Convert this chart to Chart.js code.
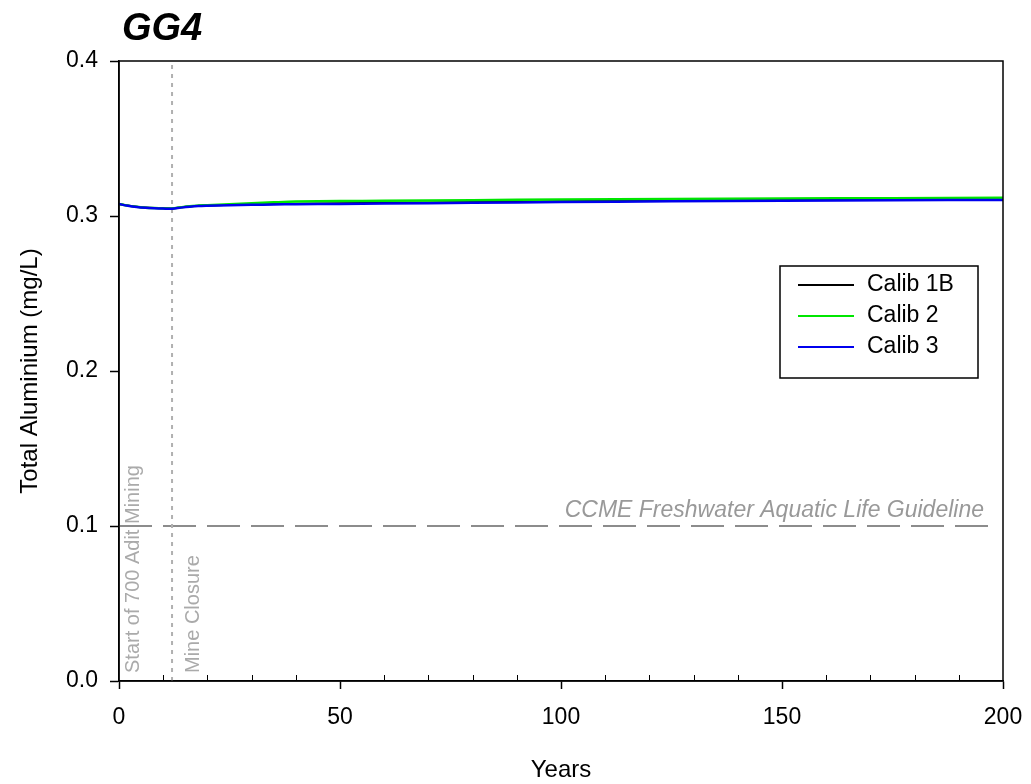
<!DOCTYPE html>
<html>
<head>
<meta charset="utf-8">
<script src="https://cdn.jsdelivr.net/npm/chart.js@4/dist/chart.umd.min.js"></script>
<style>
  html, body { margin: 0; padding: 0; background: #fff; }
  #wrap { width: 1031px; height: 784px; }
</style>
</head>
<body>
<div id="wrap"><canvas id="chart" width="1031" height="784"></canvas></div>
<script>
// years along the x axis
const years = [0, 2, 4, 6, 8, 10, 12, 14, 16, 18, 20, 25, 30, 35, 40, 50, 60, 80, 100, 125, 150, 175, 200];

// total aluminium (mg/L) per calibration
const calib1B = [0.3078, 0.3068, 0.3060, 0.3055, 0.3052, 0.3050, 0.3049, 0.3056, 0.3062, 0.3066, 0.3068, 0.3072, 0.3075, 0.3077, 0.3079, 0.3082, 0.3085, 0.3090, 0.3095, 0.3100, 0.3104, 0.3107, 0.3110];
const calib2  = [0.3078, 0.3067, 0.3059, 0.3054, 0.3051, 0.3049, 0.3048, 0.3056, 0.3063, 0.3067, 0.3070, 0.3076, 0.3082, 0.3088, 0.3093, 0.3096, 0.3098, 0.3102, 0.3106, 0.3110, 0.3113, 0.3115, 0.3117];
const calib3  = [0.3077, 0.3066, 0.3058, 0.3053, 0.3050, 0.3048, 0.3047, 0.3054, 0.3060, 0.3064, 0.3066, 0.3070, 0.3072, 0.3074, 0.3076, 0.3078, 0.3080, 0.3085, 0.3090, 0.3095, 0.3099, 0.3102, 0.3104];

const guidelineValue = 0.1;
const guidelineYears = [0, 197];
const mineStartYear = 0;
const mineClosureYear = 12;

const xTicks = [0, 50, 100, 150, 200];
const yTicks = [0.0, 0.1, 0.2, 0.3, 0.4];
const xMinorStep = 10;

const FONT = 'Arial, "Liberation Sans", sans-serif';

function pts(xs, ys) {
  return xs.map((x, i) => ({ x: x, y: ys[i] }));
}

const extras = {
  id: 'extras',
  afterDraw(chart) {
    const ctx = chart.ctx;
    const a = chart.chartArea;
    const xs = chart.scales.x;
    const ys = chart.scales.y;
    ctx.save();

    // box round the plot
    ctx.strokeStyle = '#000';
    ctx.lineWidth = 1.5;
    ctx.strokeRect(a.left, a.top, a.right - a.left, a.bottom - a.top);

    // minor ticks, inside
    ctx.lineWidth = 1;
    for (let v = xMinorStep; v < 200; v += xMinorStep) {
      if (v % 50 === 0) continue;
      const px = Math.round(xs.getPixelForValue(v)) + 0.5;
      ctx.beginPath();
      ctx.moveTo(px, a.bottom);
      ctx.lineTo(px, a.bottom - 6);
      ctx.stroke();
    }

    // title
    ctx.fillStyle = '#000';
    ctx.font = 'italic bold 38px ' + FONT;
    ctx.textAlign = 'left';
    ctx.textBaseline = 'alphabetic';
    ctx.fillText('GG4', 122, 40);

    // axis titles
    ctx.font = '24px ' + FONT;
    ctx.textAlign = 'center';
    ctx.textBaseline = 'middle';
    ctx.fillText('Years', (a.left + a.right) / 2, 770);
    ctx.save();
    ctx.translate(30, (a.top + a.bottom) / 2);
    ctx.rotate(-Math.PI / 2);
    ctx.fillText('Total Aluminium (mg/L)', 0, 0);
    ctx.restore();

    // guideline label
    ctx.fillStyle = '#999';
    ctx.font = 'italic 23px ' + FONT;
    ctx.textAlign = 'right';
    ctx.textBaseline = 'alphabetic';
    ctx.fillText('CCME Freshwater Aquatic Life Guideline', 984, ys.getPixelForValue(guidelineValue) - 9);

    // vertical labels
    ctx.fillStyle = '#aaa';
    ctx.font = '20px ' + FONT;
    ctx.textAlign = 'left';
    ctx.textBaseline = 'middle';
    [[mineStartYear, 'Start of 700 Adit Mining', 14], [mineClosureYear, 'Mine Closure', 21]].forEach(([yr, txt, off]) => {
      ctx.save();
      ctx.translate(xs.getPixelForValue(yr) + off, a.bottom - 8);
      ctx.rotate(-Math.PI / 2);
      ctx.fillText(txt, 0, 0);
      ctx.restore();
    });

    // legend
    const lx = 780, ly = 266, lw = 198, lh = 112;
    ctx.fillStyle = '#fff';
    ctx.fillRect(lx, ly, lw, lh);
    ctx.strokeStyle = '#000';
    ctx.lineWidth = 1.5;
    ctx.strokeRect(lx, ly, lw, lh);
    ctx.font = '23px ' + FONT;
    ctx.textAlign = 'left';
    ctx.textBaseline = 'middle';
    chart.data.datasets.filter(d => d.inLegend)
      .sort((p, q) => q.order - p.order)
      .forEach((d, i) => {
        const y = ly + 19 + i * 31;
        ctx.strokeStyle = d.borderColor;
        ctx.lineWidth = 2;
        ctx.beginPath();
        ctx.moveTo(lx + 18, y);
        ctx.lineTo(lx + 74, y);
        ctx.stroke();
        ctx.fillStyle = '#000';
        ctx.fillText(d.label, lx + 87, y);
      });

    ctx.restore();
  }
};

new Chart(document.getElementById('chart'), {
  type: 'line',
  data: {
    datasets: [
      {
        label: 'Guideline',
        order: 4,
        data: pts(guidelineYears, [guidelineValue, guidelineValue]),
        borderColor: '#8c8c8c',
        borderWidth: 2,
        borderDash: [33, 11],
        pointRadius: 0
      },
      {
        label: 'Mine Closure',
        order: 3,
        data: pts([mineClosureYear, mineClosureYear], [0, 0.4]),
        borderColor: '#b0b0b0',
        borderWidth: 2,
        borderDash: [4, 5],
        pointRadius: 0
      },
      {
        label: 'Calib 1B',
        order: 2,
        inLegend: true,
        data: pts(years, calib1B),
        borderColor: '#000000',
        borderWidth: 2,
        pointRadius: 0,
        tension: 0.3
      },
      {
        label: 'Calib 2',
        order: 1,
        inLegend: true,
        data: pts(years, calib2),
        borderColor: '#00e600',
        borderWidth: 2.5,
        pointRadius: 0,
        tension: 0.3
      },
      {
        label: 'Calib 3',
        order: 0,
        inLegend: true,
        data: pts(years, calib3),
        borderColor: '#0000ee',
        borderWidth: 2.5,
        pointRadius: 0,
        tension: 0.3
      }
    ]
  },
  options: {
    responsive: false,
    animation: false,
    layout: { padding: { left: 0, top: 61, right: 28, bottom: 0 } },
    plugins: {
      legend: { display: false },
      tooltip: { enabled: false }
    },
    scales: {
      x: {
        type: 'linear',
        min: 0,
        max: 200,
        afterBuildTicks: (s) => { s.ticks = xTicks.map(v => ({ value: v })); },
        afterFit: (s) => { s.height = 103; s.paddingLeft = 0; s.paddingRight = 0; },
        ticks: {
          color: '#000',
          font: { family: FONT, size: 23 },
          padding: 15,
          maxRotation: 0
        },
        grid: { drawOnChartArea: false, tickLength: 8, tickColor: '#000', tickWidth: 1.5 },
        border: { color: '#000', width: 1.5 }
      },
      y: {
        type: 'linear',
        min: 0,
        max: 0.4,
        afterBuildTicks: (s) => { s.ticks = yTicks.map(v => ({ value: v })); },
        afterFit: (s) => { s.width = 119; s.paddingTop = 0; s.paddingBottom = 0; },
        ticks: {
          color: '#000',
          font: { family: FONT, size: 23 },
          padding: 12,
          callback: (v) => Number(v).toFixed(1)
        },
        grid: { drawOnChartArea: false, tickLength: 9, tickColor: '#000', tickWidth: 1.5 },
        border: { color: '#000', width: 1.5 }
      }
    }
  },
  plugins: [extras]
});
</script>
</body>
</html>
